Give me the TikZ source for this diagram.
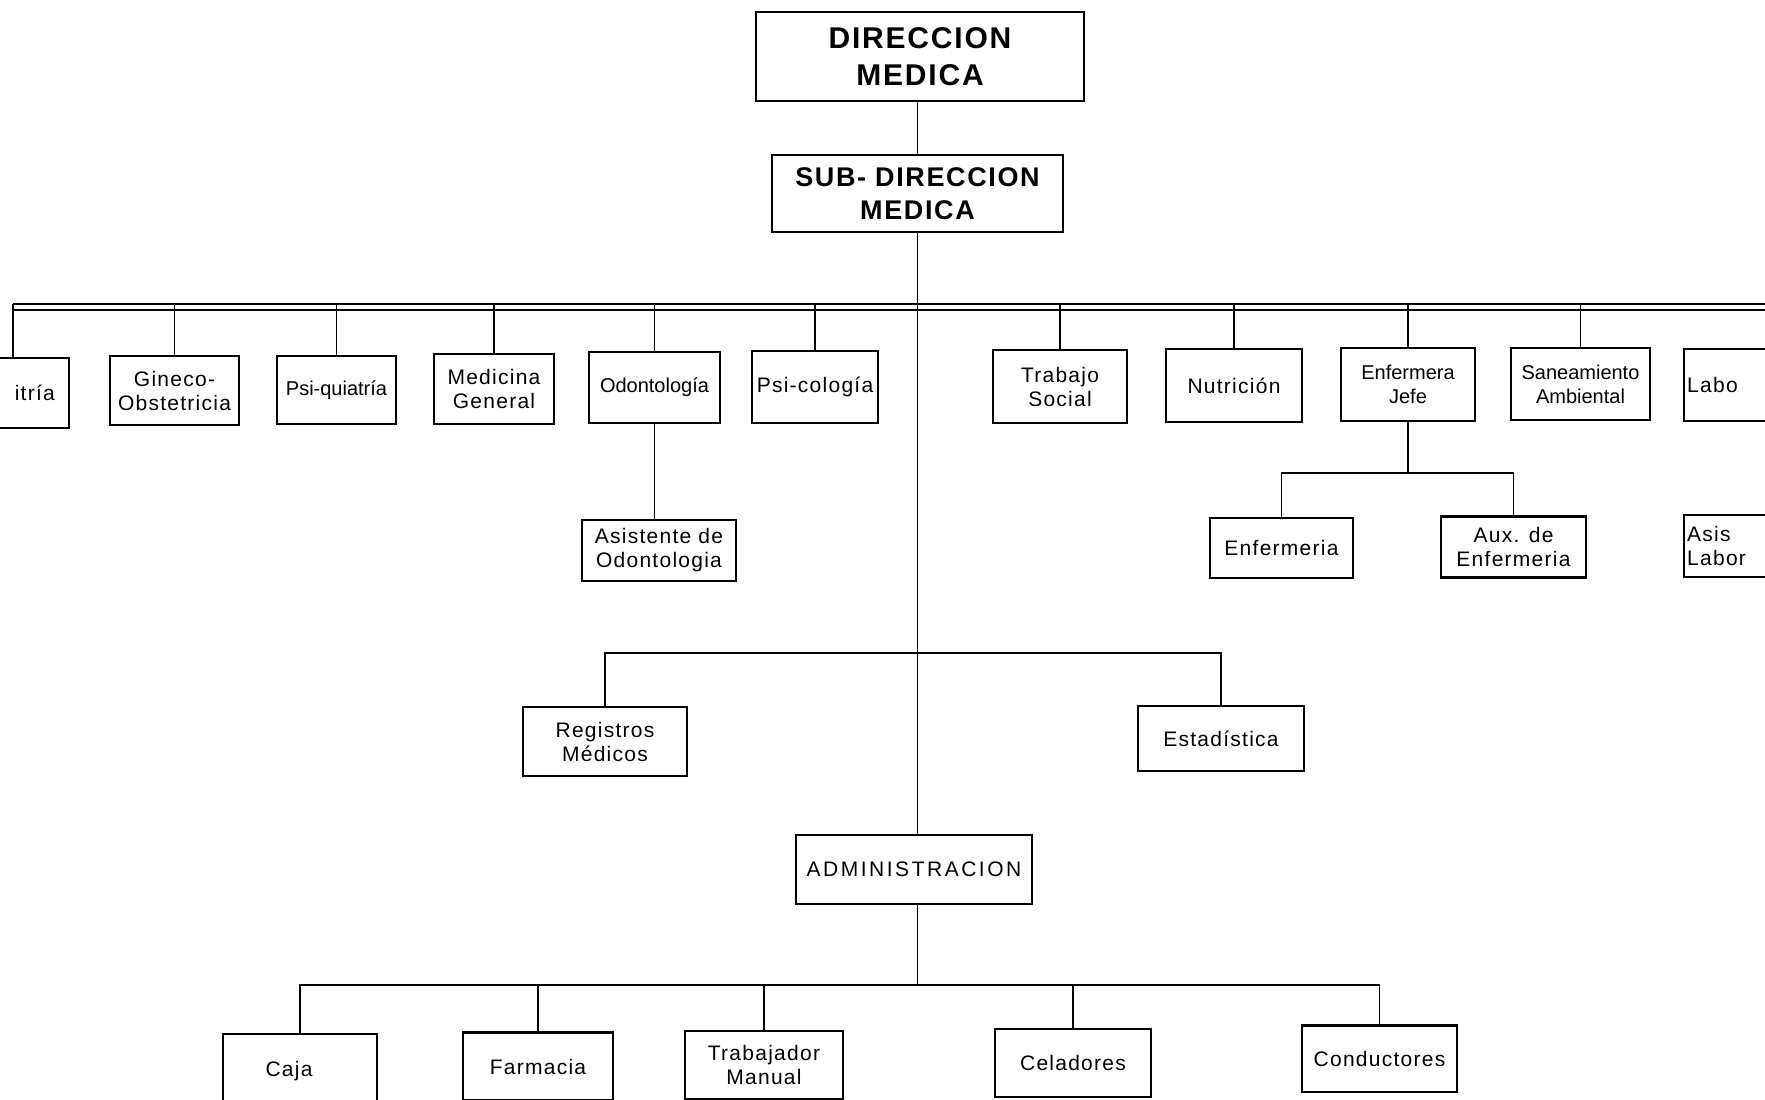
\documentclass[tikz,border=0pt]{standalone}
\usepackage{fontspec}
\setmainfont{Liberation Sans}[LetterSpace=6]
\newfontfamily\adfont{Liberation Sans}[LetterSpace=12]
\newfontfamily\tightfont{Liberation Sans}[LetterSpace=0]
\begin{document}
\begin{tikzpicture}[x=1pt,y=-1pt,
  box/.style={draw, line width=2.4pt, inner sep=2pt, align=center,
    font=\fontsize{21}{24}\selectfont},
  tight/.style={font=\fontsize{20}{24}\tightfont},
  conn/.style={line width=1.8pt},
  busline/.style={line width=2.8pt},
  thinbus/.style={line width=1.2pt}]
\useasboundingbox (0,0) rectangle (1765,1100);
\clip (0,0) rectangle (1765,1100);

% top
\node[box, font=\fontsize{30}{37}\selectfont\bfseries, minimum width=328, minimum height=89] (dir) at (920,56.5) {DIRECCION\\MEDICA};
\node[box, font=\fontsize{27}{33}\selectfont\bfseries, minimum width=291, minimum height=77] (sub) at (917.5,193.5) {SUB- DIRECCION\\MEDICA};

% row 1
\node[box, anchor=north east, minimum height=70, text width=110, align=right, inner xsep=14] (ped) at (70,357) {itría};
\node[box, minimum width=129, minimum height=69] (gin) at (174.5,390.5) {Gineco-\\Obstetricia};
\node[box, tight, minimum width=119, minimum height=68] (psq) at (336.5,390) {Psi-quiatría};
\node[box, minimum width=119.5, minimum height=70] (med) at (494,389) {Medicina\\General};
\node[box, tight, minimum width=131, minimum height=71] (odo) at (654.5,387.5) {Odontología};
\node[box, minimum width=126, minimum height=72] (psc) at (815,387) {Psi-cología};
\node[box, minimum width=134, minimum height=73] (tra) at (1060,386.5) {Trabajo\\Social};
\node[box, minimum width=136, minimum height=73] (nut) at (1234,385.5) {Nutrición};
\node[box, tight, minimum width=134, minimum height=73] (enj) at (1408,384.5) {Enfermera\\Jefe};
\node[box, tight, minimum width=139, minimum height=72] (san) at (1580.5,384) {Saneamiento\\Ambiental};
\node[box, anchor=north west, minimum height=72, text width=120, align=left, inner xsep=3] (lab) at (1683,348) {Labo};

% row 2
\node[box, minimum width=154, minimum height=61] (asi) at (659,550.5) {Asistente de\\Odontologia};
\node[box, minimum width=143, minimum height=60] (enf) at (1281.5,547.75) {Enfermeria};
\node[box, minimum width=145, minimum height=61] (aux) at (1513.5,547) {Aux. de\\Enfermeria};
\node[box, anchor=north west, minimum height=62, text width=120, align=left, inner xsep=3] (asl) at (1683,514) {Asis\\Labor};

% middle
\node[box, minimum width=164, minimum height=69] (reg) at (605,741.5) {Registros\\Médicos};
\node[box, minimum width=166, minimum height=65] (est) at (1221,738.5) {Estadística};
\node[box, font=\fontsize{21}{24}\adfont, minimum width=236, minimum height=69] (adm) at (914,869.5) {ADMINISTRACION};

% bottom row
\node[box, anchor=north, minimum width=154, minimum height=85] (caj) at (300,1033) {};
\node[font=\fontsize{21}{24}\selectfont] (cajt) at (289,1071) {Caja};
\node[box, minimum width=150, minimum height=68] (far) at (538,1066.5) {Farmacia};
\node[box, minimum width=157.5, minimum height=68] (tma) at (764,1065) {Trabajador\\Manual};
\node[box, minimum width=156.5, minimum height=68.5] (cel) at (1073,1063) {Celadores};
\node[box, minimum width=155, minimum height=66.5] (con) at (1379.5,1058.75) {Conductores};

% coordinates
\coordinate (busL) at (13,304);
\coordinate (busR) at (1765,304);
\coordinate (busL2) at (13,310);
\coordinate (busR2) at (1765,310);
\coordinate (ejbar) at (1405,473);
\coordinate (midbar) at (917,653);
\coordinate (lowbar) at (917,985);

% connectors
\draw[conn] (dir.south -| sub.north) -- (sub.north);
\draw[conn] (sub.south) -- (sub.south |- adm.north);
\draw[conn] (adm.south -| sub.south) -- (sub.south |- lowbar);
\draw[busline] (busL) -- (busR);
\draw[thinbus] (busL2) -- (busR2);
\draw[busline] (busL) -- (busL |- ped.north);
\foreach \n in {gin,psq,med,odo,psc,tra,nut,enj,san}
  \draw[conn] (\n.north) -- (\n.north |- busL);
\draw[conn] (odo.south) -- (odo.south |- asi.north);
\draw[conn] (enj.south) -- (enj.south |- ejbar);
\draw[conn] (enf.north) -- (enf.north |- ejbar) -- (aux.north |- ejbar) -- (aux.north);
\draw[conn] (reg.north) -- (reg.north |- midbar) -- (est.north |- midbar) -- (est.north);
\draw[conn] (caj.north) -- (caj.north |- lowbar) -- (con.north |- lowbar) -- (con.north);
\foreach \n in {far,tma,cel}
  \draw[conn] (\n.north) -- (\n.north |- lowbar);
\end{tikzpicture}
\end{document}
